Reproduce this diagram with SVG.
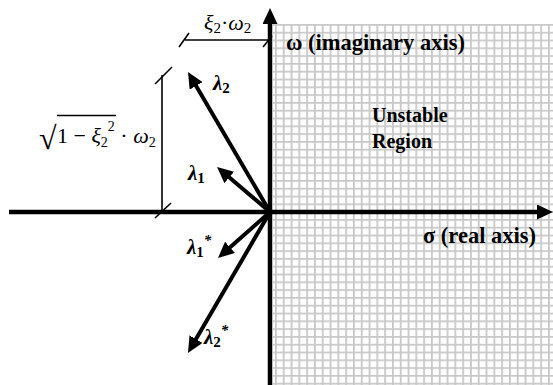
<svg xmlns="http://www.w3.org/2000/svg" width="553" height="385" viewBox="0 0 553 385">
<style>
.ax{stroke:#000;stroke-width:4.5;fill:none}
.vec{stroke:#000;stroke-width:4;fill:none;marker-end:url(#ah)}
.dim{stroke:#000;stroke-width:1.6;fill:none}
text{font-family:'Liberation Serif',serif;fill:#000}
.lbl{font-weight:bold}
.math{font-style:italic}
.lam{font-style:italic;font-weight:bold;font-size:21px}
</style>
<defs>
<pattern id="grid" x="275" y="24" width="7.8" height="7.8" patternUnits="userSpaceOnUse">
<rect width="7.8" height="7.8" fill="#fff"/>
<path d="M0.9,0V7.8M0,0.9H7.8" stroke="#c8c8c8" stroke-width="1.8"/>
</pattern>
<marker id="ah" markerUnits="userSpaceOnUse" markerWidth="18" markerHeight="15" viewBox="0 0 18 15" refX="4" refY="7.5" orient="auto">
<path d="M0,0L16,7.5L0,15z" fill="#000"/>
</marker>
</defs>
<g id="unstable-region">
<rect x="273" y="24" width="280" height="361" fill="url(#grid)"/>
<text class="lbl" x="372" y="122" font-size="20">Unstable</text>
<text class="lbl" x="372" y="148" font-size="20">Region</text>
</g>
<g id="connectors">
<line id="real-axis" class="ax" x1="9" y1="212" x2="541" y2="212" style="marker-end:url(#ah)"/>
<line id="imag-axis" class="ax" x1="270" y1="385" x2="270" y2="20" style="marker-end:url(#ah)"/>
<line id="v-lambda2" class="vec" x1="270" y1="212" x2="194.1" y2="82.4"/>
<line id="v-lambda1" class="vec" x1="270" y1="212" x2="226.2" y2="174.8"/>
<line id="v-lambda1c" class="vec" x1="270" y1="212" x2="227" y2="250"/>
<line id="v-lambda2c" class="vec" x1="270" y1="212" x2="194" y2="342.6"/>
</g>
<g id="axis-labels">
<text class="lbl" x="286" y="50" font-size="22.5">ω (imaginary axis)</text>
<text class="lbl" x="423" y="243" font-size="22.5">σ (real axis)</text>
</g>
<g id="dim-horizontal">
<line class="dim" x1="185" y1="40" x2="270" y2="40"/>
<line class="dim" x1="179" y1="47" x2="189" y2="33"/>
<line class="dim" x1="263" y1="47" x2="272" y2="36"/>
<text class="math" x="204" y="30" font-size="22">ξ<tspan font-size="15" dy="3" font-style="normal">2</tspan><tspan dy="-3" font-style="normal">·</tspan>ω<tspan font-size="15" dy="3" font-style="normal">2</tspan></text>
</g>
<g id="dim-vertical">
<line class="dim" x1="162" y1="75" x2="162" y2="212"/>
<line class="dim" x1="155" y1="84" x2="172" y2="67"/>
<line class="dim" x1="155" y1="218" x2="171" y2="203"/>
<text class="math" x="39" y="149" font-size="32" font-style="normal">√</text>
<line class="dim" x1="57" y1="115.5" x2="116" y2="115.5" stroke-width="1.2"/>
<text class="math" x="57" y="143" font-size="22"><tspan font-style="normal">1 − </tspan>ξ<tspan font-size="14" dy="4" font-style="normal">2</tspan><tspan font-size="14" dy="-16" font-style="normal">2</tspan><tspan dy="12" font-style="normal"> · </tspan>ω<tspan font-size="14" dy="4" font-style="normal">2</tspan></text>
</g>
<g id="lambda2"><text class="lam" x="213" y="90">λ<tspan font-size="15" dy="3" font-style="normal">2</tspan></text></g>
<g id="lambda1"><text class="lam" x="188" y="180">λ<tspan font-size="15" dy="3" font-style="normal">1</tspan></text></g>
<g id="lambda1c"><text class="lam" x="187" y="254">λ<tspan font-size="15" dy="3" font-style="normal">1</tspan><tspan font-size="15" dy="-12">*</tspan></text></g>
<g id="lambda2c"><text class="lam" x="204" y="344">λ<tspan font-size="15" dy="3" font-style="normal">2</tspan><tspan font-size="15" dy="-12">*</tspan></text></g>
</svg>
